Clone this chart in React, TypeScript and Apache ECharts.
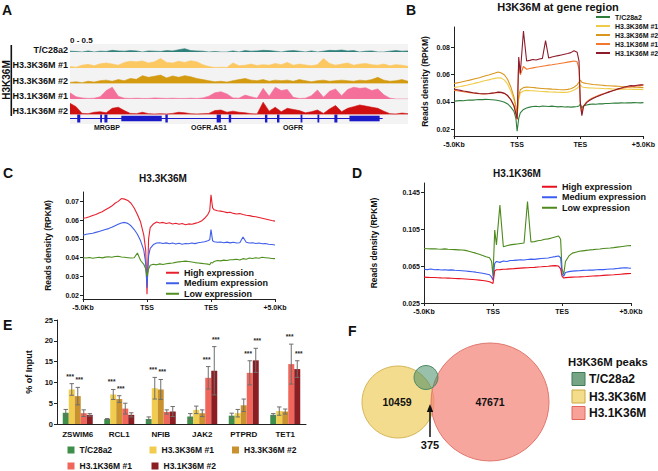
import { useEffect, useRef } from 'react';
import * as echarts from 'echarts';

const FONT = '"Liberation Sans", Arial, Helvetica, sans-serif';

// ---------- shared profile axis (-5kb .. TSS .. TES .. +5kb) ----------
const profileTicks = ['-5.0Kb', 'TSS', 'TES', '+5.0Kb'];
const profilePos = [0,1,2,3,4,5,6,7,8,9,10,11,12,13,14,15,16,17,18,19,19.6,20,20.5,21,22,23,24,25,26,27,28,29,30,31,32,33,34,35,36,37,38,39,39.6,40,40.5,41,42,43,44,45,46,47,48,49,50,51,52,53,54,55,56,57,58,59,60];

// ---------- Panel B ----------
const bNames = ['T/C28a2', 'H3.3K36M #1', 'H3.3K36M #2', 'H3.1K36M #1', 'H3.1K36M #2'];
const bColors = ['#2e7d3a', '#efcb47', '#d8961c', '#f4772e', '#8c1c2c'];
const bTC = [0.0405,0.0408,0.0410,0.0409,0.0412,0.0414,0.0413,0.0416,0.0418,0.0417,0.0419,0.0418,0.0416,0.0414,0.0410,0.0405,0.0398,0.0385,0.0362,0.0330, 0.0280,0.0185,0.0280, 0.0320,0.0345,0.0356,0.0362,0.0366,0.0368,0.0365,0.0370,0.0368,0.0366,0.0369,0.0367,0.0364,0.0366,0.0363,0.0365,0.0362,0.0364,0.0366, 0.0370,0.0385,0.0355, 0.0372,0.0378,0.0382,0.0385,0.0383,0.0387,0.0386,0.0389,0.0388,0.0390,0.0392,0.0391,0.0393,0.0392,0.0394,0.0393,0.0395,0.0394,0.0393,0.0395];
const bH33a = [0.0505,0.0510,0.0513,0.0518,0.0522,0.0528,0.0533,0.0540,0.0545,0.0552,0.0557,0.0562,0.0568,0.0573,0.0578,0.0575,0.0560,0.0530,0.0480,0.0415, 0.0360,0.0300,0.0420, 0.0465,0.0480,0.0485,0.0483,0.0482,0.0480,0.0478,0.0477,0.0476,0.0474,0.0473,0.0472,0.0471,0.0470,0.0470,0.0472,0.0477,0.0487,0.0500, 0.0515,0.0525,0.0512, 0.0508,0.0505,0.0503,0.0502,0.0500,0.0501,0.0499,0.0497,0.0498,0.0496,0.0495,0.0496,0.0494,0.0495,0.0493,0.0494,0.0492,0.0493,0.0492,0.0490];
const bH33b = [0.0535,0.0540,0.0545,0.0550,0.0555,0.0560,0.0566,0.0572,0.0578,0.0585,0.0592,0.0598,0.0605,0.0612,0.0620,0.0612,0.0598,0.0565,0.0510,0.0435, 0.0370,0.0305,0.0440, 0.0490,0.0505,0.0510,0.0508,0.0506,0.0503,0.0501,0.0499,0.0497,0.0496,0.0494,0.0493,0.0491,0.0490,0.0490,0.0492,0.0497,0.0508,0.0525, 0.0545,0.0560,0.0545, 0.0540,0.0535,0.0532,0.0528,0.0526,0.0524,0.0522,0.0520,0.0519,0.0517,0.0516,0.0515,0.0513,0.0512,0.0510,0.0511,0.0509,0.0508,0.0507,0.0505];
const bH31a = [0.0485,0.0482,0.0478,0.0475,0.0472,0.0468,0.0466,0.0463,0.0460,0.0458,0.0458,0.0460,0.0463,0.0467,0.0470,0.0468,0.0462,0.0445,0.0415,0.0370, 0.0310,0.0270,0.0700, 0.0600,0.0660,0.0640,0.0645,0.0650,0.0655,0.0658,0.0662,0.0666,0.0670,0.0673,0.0677,0.0680,0.0684,0.0688,0.0692,0.0696,0.0700,0.0695, 0.0640,0.0380,0.0310, 0.0370,0.0400,0.0418,0.0430,0.0440,0.0450,0.0458,0.0466,0.0474,0.0480,0.0487,0.0493,0.0498,0.0504,0.0508,0.0512,0.0515,0.0518,0.0520,0.0522];
const bH31b = [0.0495,0.0490,0.0485,0.0480,0.0476,0.0472,0.0468,0.0465,0.0462,0.0460,0.0460,0.0462,0.0465,0.0468,0.0472,0.0470,0.0463,0.0447,0.0418,0.0372, 0.0315,0.0275,0.0730, 0.0610,0.0920,0.0700,0.0705,0.0712,0.0708,0.0715,0.0720,0.0850,0.0722,0.0730,0.0735,0.0740,0.0745,0.0750,0.0755,0.0762,0.0775,0.0765, 0.0700,0.0400,0.0300, 0.0365,0.0395,0.0412,0.0425,0.0436,0.0446,0.0455,0.0463,0.0472,0.0480,0.0488,0.0496,0.0503,0.0510,0.0515,0.0520,0.0518,0.0522,0.0525,0.0526];
const bSeries = [bTC, bH33a, bH33b, bH31a, bH31b];

// ---------- Panels C and D ----------
const exprNames = ['High expression', 'Medium expression', 'Low expression'];
const cColors = ['#e8202e', '#3f5ee8', '#4f8f1f'];
const cHigh = [0.0610,0.0613,0.0618,0.0625,0.0630,0.0638,0.0645,0.0655,0.0665,0.0675,0.0690,0.0700,0.0715,0.0712,0.0705,0.0690,0.0665,0.0630,0.0590,0.0520, 0.0440,0.0205,0.0500, 0.0560,0.0580,0.0590,0.0585,0.0588,0.0582,0.0586,0.0580,0.0584,0.0578,0.0582,0.0576,0.0580,0.0578,0.0583,0.0588,0.0595,0.0610,0.0630, 0.0650,0.0735,0.0665, 0.0655,0.0650,0.0648,0.0645,0.0640,0.0642,0.0636,0.0633,0.0635,0.0630,0.0626,0.0624,0.0620,0.0618,0.0614,0.0610,0.0606,0.0602,0.0598,0.0595];
const cMed = [0.0520,0.0525,0.0528,0.0530,0.0535,0.0540,0.0545,0.0550,0.0555,0.0562,0.0570,0.0578,0.0585,0.0588,0.0583,0.0570,0.0550,0.0525,0.0490,0.0440, 0.0370,0.0240,0.0410, 0.0450,0.0470,0.0478,0.0480,0.0476,0.0479,0.0474,0.0478,0.0473,0.0477,0.0472,0.0476,0.0474,0.0478,0.0475,0.0480,0.0482,0.0485,0.0490, 0.0495,0.0550,0.0490, 0.0485,0.0482,0.0484,0.0480,0.0483,0.0479,0.0482,0.0478,0.0480,0.0510,0.0482,0.0478,0.0480,0.0476,0.0478,0.0474,0.0476,0.0472,0.0470,0.0468];
const cLow = [0.0400,0.0398,0.0401,0.0397,0.0400,0.0402,0.0399,0.0403,0.0405,0.0402,0.0406,0.0408,0.0404,0.0402,0.0400,0.0398,0.0400,0.0425,0.0385,0.0365, 0.0340,0.0300,0.0340, 0.0360,0.0365,0.0362,0.0367,0.0364,0.0368,0.0370,0.0372,0.0375,0.0378,0.0380,0.0382,0.0380,0.0377,0.0374,0.0372,0.0370,0.0368,0.0366, 0.0362,0.0375,0.0372, 0.0380,0.0385,0.0383,0.0387,0.0385,0.0389,0.0390,0.0392,0.0388,0.0395,0.0392,0.0398,0.0396,0.0400,0.0397,0.0402,0.0400,0.0398,0.0396,0.0395];
const dColors = ['#e8101e', '#3a5cf0', '#4c8a1c'];
const dHigh = [0.0530,0.0528,0.0526,0.0527,0.0524,0.0522,0.0521,0.0520,0.0518,0.0516,0.0514,0.0512,0.0510,0.0508,0.0505,0.0502,0.0498,0.0494,0.0488,0.0480, 0.0470,0.0462,0.0600, 0.0610,0.0612,0.0615,0.0617,0.0620,0.0622,0.0625,0.0628,0.0630,0.0632,0.0634,0.0636,0.0640,0.0642,0.0645,0.0648,0.0652,0.0655,0.0650, 0.0620,0.0540,0.0520, 0.0525,0.0528,0.0530,0.0532,0.0533,0.0535,0.0537,0.0540,0.0542,0.0544,0.0546,0.0549,0.0552,0.0554,0.0556,0.0559,0.0562,0.0565,0.0568,0.0570];
const dMed = [0.0615,0.0612,0.0618,0.0610,0.0613,0.0608,0.0611,0.0606,0.0609,0.0604,0.0602,0.0600,0.0597,0.0593,0.0589,0.0584,0.0578,0.0572,0.0565,0.0556, 0.0530,0.0500,0.0680, 0.0700,0.0690,0.0705,0.0700,0.0710,0.0712,0.0715,0.0718,0.0716,0.0722,0.0725,0.0723,0.0728,0.0732,0.0735,0.0738,0.0745,0.0752,0.0760, 0.0740,0.0570,0.0540, 0.0580,0.0590,0.0595,0.0598,0.0600,0.0603,0.0605,0.0608,0.0606,0.0610,0.0613,0.0612,0.0616,0.0618,0.0620,0.0624,0.0628,0.0632,0.0630,0.0626];
const dLow = [0.0840,0.0838,0.0836,0.0838,0.0835,0.0833,0.0836,0.0832,0.0830,0.0828,0.0826,0.0824,0.0820,0.0810,0.0800,0.0790,0.0778,0.0765,0.0752,0.0740, 0.0700,0.0540,0.1040, 0.0880,0.1310,0.0860,0.0870,0.0880,0.0885,0.0890,0.0895,0.0900,0.1350,0.0910,0.0915,0.0925,0.0930,0.0940,0.0945,0.0955,0.0965,0.0975, 0.0940,0.0620,0.0560, 0.0700,0.0760,0.0790,0.0800,0.0810,0.0815,0.0820,0.0825,0.0828,0.0832,0.0835,0.0840,0.0843,0.0846,0.0850,0.0855,0.0860,0.0865,0.0870,0.0872];

// ---------- Panel E ----------
const qGenes = ['ZSWIM6', 'RCL1', 'NFIB', 'JAK2', 'PTPRD', 'TET1'];
const qNames = ['T/C28a2', 'H3.3K36M #1', 'H3.3K36M #2', 'H3.1K36M #1', 'H3.1K36M #2'];
const qColors = ['#3e8f4a', '#f1cc4e', '#c9922e', '#f0665a', '#8b1e22'];
const qTC = [2.7, 1.2, 1.2, 1.8, 2.0, 2.2];
const qTCerr = [0.8, 0.1, 0.5, 0.7, 0.6, 0.3];
const qH33a = [8.3, 7.1, 8.6, 3.4, 2.6, 3.1];
const qH33aErr = [1.4, 1.2, 2.6, 0.9, 0.9, 1.0];
const qH33b = [6.7, 6.0, 8.3, 2.6, 4.5, 3.0];
const qH33bErr = [2.1, 0.8, 2.4, 0.8, 1.5, 0.6];
const qH31a = [2.6, 3.7, 2.9, 11.1, 12.3, 14.4];
const qH31aErr = [0.8, 1.3, 0.5, 2.7, 2.9, 4.8];
const qH31b = [2.2, 2.2, 3.0, 12.8, 15.3, 13.2];
const qH31bErr = [0.3, 0.5, 1.2, 5.8, 2.9, 2.0];
const qStars = [
  [0, 0, 0, 0, 0, 0],
  [1, 1, 1, 0, 0, 0],
  [1, 1, 1, 0, 0, 0],
  [0, 0, 0, 1, 1, 1],
  [0, 0, 0, 1, 1, 1],
];
const qVals = [qTC, qH33a, qH33b, qH31a, qH31b];
const qErrs = [qTCerr, qH33aErr, qH33bErr, qH31aErr, qH31bErr];

// ---------- Panel A (genome browser tracks, 57 bins, scale 0 - 0.5) ----------
const trackNames = ['T/C28a2', 'H3.3K36M #1', 'H3.3K36M #2', 'H3.1K36M #1', 'H3.1K36M #2'];
const trackColors = ['#2f7f7a', '#fcc862', '#d49a10', '#f4709a', '#d01010'];
const trTC = [0.03,0.02,0.00,0.04,0.00,0.03,0.02,0.06,0.04,0.03,0.05,0.04,0.00,0.04,0.03,0.02,0.05,0.04,0.08,0.12,0.05,0.04,0.03,0.00,0.02,0.00,0.00,0.04,0.00,0.05,0.03,0.04,0.06,0.05,0.03,0.00,0.04,0.05,0.03,0.00,0.04,0.00,0.03,0.06,0.05,0.07,0.04,0.05,0.00,0.03,0.04,0.00,0.00,0.03,0.05,0.03,0.04];
const trH33a = [0.05,0.03,0.10,0.13,0.08,0.15,0.18,0.14,0.10,0.20,0.24,0.22,0.25,0.18,0.22,0.34,0.20,0.18,0.24,0.20,0.26,0.22,0.12,0.05,0.02,0.03,0.02,0.18,0.08,0.10,0.14,0.09,0.12,0.10,0.16,0.12,0.20,0.10,0.14,0.11,0.08,0.12,0.34,0.16,0.10,0.14,0.18,0.10,0.14,0.16,0.12,0.10,0.14,0.08,0.12,0.10,0.06];
const trH33b = [0.04,0.06,0.03,0.08,0.05,0.10,0.12,0.08,0.14,0.10,0.18,0.15,0.28,0.22,0.26,0.30,0.20,0.27,0.22,0.28,0.24,0.18,0.14,0.10,0.06,0.08,0.05,0.10,0.14,0.18,0.12,0.10,0.14,0.08,0.12,0.10,0.12,0.08,0.14,0.10,0.06,0.10,0.12,0.08,0.10,0.12,0.10,0.08,0.12,0.10,0.14,0.22,0.12,0.08,0.10,0.14,0.08];
const trH31a = [0.22,0.08,0.04,0.02,0.03,0.08,0.30,0.42,0.10,0.03,0.02,0.03,0.02,0.02,0.04,0.03,0.02,0.03,0.02,0.02,0.03,0.02,0.04,0.10,0.22,0.26,0.18,0.04,0.03,0.14,0.08,0.03,0.38,0.10,0.42,0.30,0.34,0.06,0.02,0.03,0.12,0.32,0.06,0.28,0.36,0.12,0.34,0.42,0.38,0.40,0.30,0.36,0.15,0.03,0.00,0.00,0.00];
const trH31b = [0.40,0.28,0.04,0.03,0.08,0.10,0.06,0.22,0.26,0.14,0.04,0.03,0.08,0.03,0.02,0.03,0.02,0.04,0.08,0.06,0.03,0.02,0.03,0.04,0.14,0.16,0.08,0.12,0.08,0.06,0.03,0.02,0.44,0.12,0.26,0.10,0.22,0.18,0.14,0.06,0.10,0.16,0.04,0.20,0.32,0.10,0.22,0.28,0.34,0.30,0.26,0.22,0.12,0.03,0.02,0.05,0.03];
const trackData = [trTC, trH33a, trH33b, trH31a, trH31b];
const geneSpan = [0, 51.8];
const geneExons = [[1.2,1.7,1],[5,5.3,1],[5.7,6.2,1],[8.5,15.2,0.7],[15.8,16.2,1],[24.3,25,1],[26.3,26.7,1],[32.3,32.7,1],[34.3,34.7,1],[38.2,38.5,1],[41,41.3,1],[43.8,44.3,1],[46.3,51.3,0.7]];
const geneLabels = ['MRGBP', 'OGFR.AS1', 'OGFR'];

// ---------- Panel F ----------
const vennNames = ['T/C28a2', 'H3.3K36M', 'H3.1K36M'];
const vennCounts = [10459, 47671, 375];

const strip = (n: string) => n.replace(/^[A-Z]:/, '');
const bold = (size: number, extra: any = {}) => ({ fontSize: size, fontWeight: 'bold', color: '#111', fontFamily: FONT, ...extra });

function profileX(gridIndex: number) {
  return {
    type: 'value', gridIndex, min: 0, max: 60, interval: 20,
    axisLine: { show: true, lineStyle: { color: '#222', width: 1 } },
    axisTick: { show: true, length: 3, lineStyle: { color: '#222' } },
    splitLine: { show: false },
    axisLabel: { ...bold(7), margin: 5, formatter: (v: number) => profileTicks[Math.round(v / 20)] || '' },
  };
}
function profileY(gridIndex: number, extra: any, nameGap: number) {
  return {
    type: 'value', gridIndex, ...extra,
    name: 'Reads density (RPKM)', nameLocation: 'middle', nameGap, nameRotate: 90,
    nameTextStyle: bold(8.5),
    axisLine: { show: true, lineStyle: { color: '#222', width: 1 } },
    axisTick: { show: true, length: 3, lineStyle: { color: '#222' } },
    splitLine: { show: false },
    axisLabel: { ...bold(7), margin: 4, showMinLabel: extra.interval ? true : false, showMaxLabel: false },
  };
}
const pairs = (arr: number[]) => profilePos.map((x, i) => [x, arr[i]]);
const lineSeries = (name: string, data: number[], color: string, axis: number) => ({
  type: 'line', name, data: pairs(data), xAxisIndex: axis, yAxisIndex: axis,
  symbol: 'none', showSymbol: false, silent: true,
  lineStyle: { color, width: 1.1 }, itemStyle: { color },
});

function txt(text: string, x: number, y: number, size: number, align = 'left', vAlign = 'middle', extra: any = {}) {
  return {
    type: 'text', x, y, silent: true, ...extra,
    style: { text, x: 0, y: 0, fill: '#111', font: `bold ${size}px ${FONT}`, align, verticalAlign: vAlign, textAlign: align, textVerticalAlign: vAlign },
  };
}

export default function App() {
  const ref = useRef<HTMLDivElement>(null);
  useEffect(() => {
    if (!ref.current) return;
    const chart = echarts.init(ref.current, undefined, { renderer: 'svg' });

    const trackBase = [52, 68, 83.5, 99, 114.5];
    const grids: any[] = [
      { left: 454, top: 27, width: 199, height: 109 },
      { left: 83, top: 192, width: 192, height: 107 },
      { left: 424, top: 183, width: 207, height: 120 },
      { left: 57, top: 320, width: 249, height: 104 },
      ...trackBase.map((b) => ({ left: 70, top: b - 14, width: 338, height: 14 })),
      { left: 70, top: 114.5, width: 338, height: 8 },
    ];
    const xAxes: any[] = [
      profileX(0), profileX(1), profileX(2),
      {
        type: 'category', gridIndex: 3, data: qGenes,
        axisLine: { lineStyle: { color: '#222' } }, axisTick: { show: false },
        axisLabel: { ...bold(8), margin: 6, interval: 0 },
      },
      ...trackBase.map((_, i) => ({ type: 'value', gridIndex: 4 + i, min: 0, max: 56, show: false })),
      { type: 'value', gridIndex: 9, min: 0, max: 56, show: false },
    ];
    const yAxes: any[] = [
      profileY(0, { min: 0.015, max: 0.095, splitNumber: 4 }, 25),
      profileY(1, { min: 0.018, max: 0.075, splitNumber: 5 }, 30.5),
      profileY(2, { min: 0.025, max: 0.155, interval: 0.04 }, 46),
      {
        type: 'value', gridIndex: 3, min: 0, max: 25, interval: 5,
        name: '% of Input', nameLocation: 'middle', nameGap: 24, nameRotate: 90, nameTextStyle: bold(9),
        axisLine: { show: true, lineStyle: { color: '#222' } },
        axisTick: { show: true, length: 3, lineStyle: { color: '#222' } },
        splitLine: { show: false }, axisLabel: { ...bold(7.5), margin: 4 },
      },
      ...trackBase.map((_, i) => ({ type: 'value', gridIndex: 4 + i, min: 0, max: 0.5, show: false })),
      { type: 'value', gridIndex: 9, min: 0, max: 1, show: false },
    ];

    const series: any[] = [];
    bNames.forEach((n, i) => series.push(lineSeries(n, bSeries[i], bColors[i], 0)));
    [cHigh, cMed, cLow].forEach((d, i) => series.push(lineSeries('C:' + exprNames[i], d, cColors[i], 1)));
    [dLow, dMed, dHigh].forEach((d, k) => {
      const i = 2 - k;
      series.push(lineSeries('D:' + exprNames[i], d, dColors[i], 2));
    });
    const barW = 6;
    qNames.forEach((n, k) => {
      series.push({
        type: 'bar', name: 'E:' + n, data: qVals[k], xAxisIndex: 3, yAxisIndex: 3,
        barWidth: barW, barGap: '0%', itemStyle: { color: qColors[k] }, silent: true,
      });
    });
    qNames.forEach((n, k) => {
      const off = (k - 2) * barW;
      const starShift = k === 1 || k === 3 ? -1.6 : 1.6;
      series.push({
        type: 'custom', name: 'err' + k, xAxisIndex: 3, yAxisIndex: 3, z: 5, silent: true,
        data: qGenes.map((_, i) => [i, qVals[k][i], qErrs[k][i], qStars[k][i]]),
        encode: { x: 0, y: 1 },
        renderItem: (_p: any, api: any) => {
          const ci = api.value(0), v = api.value(1), e = api.value(2), s = api.value(3);
          const c = api.coord([ci, v]);
          const x = c[0] + off;
          const yT = api.coord([ci, v + e])[1];
          const yB = api.coord([ci, v - e])[1];
          const st = { stroke: '#6e6e6e', lineWidth: 1 };
          const children: any[] = [
            { type: 'line', shape: { x1: x, y1: yT, x2: x, y2: yB }, style: st },
            { type: 'line', shape: { x1: x - 2.2, y1: yT, x2: x + 2.2, y2: yT }, style: st },
            { type: 'line', shape: { x1: x - 2.2, y1: yB, x2: x + 2.2, y2: yB }, style: st },
          ];
          if (s) {
            children.push({ type: 'text', style: { text: '***', x: x + starShift, y: yT - 4, align: 'center', verticalAlign: 'bottom', font: `bold 6.5px ${FONT}`, fill: '#222' } });
          }
          return { type: 'group', children };
        },
      });
    });
    trackData.forEach((d, i) => {
      series.push({
        type: 'line', name: 'track' + i, xAxisIndex: 4 + i, yAxisIndex: 4 + i,
        data: d.map((v, j) => [j, v]), symbol: 'none', silent: true,
        lineStyle: { color: trackColors[i], width: 0.6 },
        areaStyle: { color: trackColors[i], opacity: 1 },
      });
    });
    series.push({
      type: 'line', name: 'geneLine', xAxisIndex: 9, yAxisIndex: 9, silent: true,
      data: [[geneSpan[0], 0.5], [geneSpan[1], 0.5]], symbol: 'none',
      lineStyle: { color: '#1a1ac8', width: 1 },
    });
    series.push({
      type: 'custom', name: 'exons', xAxisIndex: 9, yAxisIndex: 9, silent: true,
      data: geneExons, encode: { x: [0, 1], y: 2 },
      renderItem: (_p: any, api: any) => {
        const h = api.value(2);
        const a = api.coord([api.value(0), 0.5 + h / 2]);
        const b = api.coord([api.value(1), 0.5 - h / 2]);
        return { type: 'rect', shape: { x: a[0], y: a[1], width: Math.max(1.2, b[0] - a[0]), height: b[1] - a[1] }, style: { fill: '#1a1ac8' } };
      },
    });

    const legendBase = { padding: 0, selectedMode: false, icon: 'rect', formatter: strip };
    const legends: any[] = [
      { ...legendBase, data: bNames, orient: 'vertical', left: 596, top: 12.5, itemWidth: 14, itemHeight: 2, itemGap: 0, textStyle: { ...bold(7), lineHeight: 9 } },
      { ...legendBase, data: exprNames.map((n) => 'C:' + n), orient: 'vertical', left: 166, top: 267.5, itemWidth: 13, itemHeight: 2, itemGap: 0, textStyle: { ...bold(9), lineHeight: 10.5 } },
      { ...legendBase, data: exprNames.map((n) => 'D:' + n), orient: 'vertical', left: 542, top: 181.5, itemWidth: 15, itemHeight: 2, itemGap: 0, textStyle: { ...bold(9), lineHeight: 10.5 } },
    ];
    const eLegendPos = [[67.5, 445], [149.5, 445], [232, 445], [67.5, 461], [151.5, 461]];
    qNames.forEach((n, k) => {
      legends.push({ ...legendBase, data: ['E:' + n], left: eLegendPos[k][0], top: eLegendPos[k][1], itemWidth: 7, itemHeight: 7, textStyle: { ...bold(8.5), lineHeight: 10 } });
    });

    const trackLabelY = [50, 64.5, 80.5, 96, 110.5];
    const vennLegendY = [379, 396.5, 413];
    const vennFill = ['#75a585', '#f3dd8a', '#f7a199'];
    const vennStroke = ['#3f7a55', '#c9a843', '#e0665c'];
    const graphic: any[] = [
      // panel letters
      txt('A', 2, 3, 14, 'left', 'top'),
      txt('B', 406, 3, 14, 'left', 'top'),
      txt('C', 3, 166, 14, 'left', 'top'),
      txt('D', 352, 166, 14, 'left', 'top'),
      txt('E', 3, 318, 14, 'left', 'top'),
      txt('F', 348, 324, 14, 'left', 'top'),
      // titles
      txt('H3K36M at gene region', 558, 6.5, 11, 'center'),
      txt('H3.3K36M', 163, 178, 10, 'center'),
      txt('H3.1K36M', 517, 173, 10, 'center'),
      // panel A
      { type: 'rect', z: -5, silent: true, shape: { x: 70, y: 44, width: 338, height: 80 }, style: { fill: '#f3f3f3' } },
      txt('0 - 0.5', 70, 40, 8),
      ...trackNames.map((n, i) => txt(n, 68, trackLabelY[i], 9, 'right')),
      { type: 'rect', silent: true, shape: { x: 10.5, y: 45, width: 1.6, height: 71 }, style: { fill: '#111' } },
      txt('H3K36M', 6, 80, 10, 'center', 'middle', { rotation: Math.PI / 2 }),
      txt(geneLabels[0], 107, 127.5, 7, 'center'),
      txt(geneLabels[1], 209, 127.5, 7, 'center'),
      txt(geneLabels[2], 293, 127.5, 7, 'center'),
      // panel F venn
      { type: 'circle', silent: true, shape: { cx: 398, cy: 402, r: 36 }, style: { fill: '#f3dc8e', stroke: '#d6b65a', lineWidth: 1 } },
      { type: 'circle', silent: true, shape: { cx: 490, cy: 402, r: 59 }, style: { fill: 'rgba(244,132,120,0.72)', stroke: '#e0776d', lineWidth: 1 } },
      { type: 'circle', silent: true, shape: { cx: 426, cy: 377.5, r: 12 }, style: { fill: 'rgba(70,140,100,0.55)', stroke: '#4d8a63', lineWidth: 1 } },
      txt(String(vennCounts[0]), 397, 402, 10.5, 'center'),
      txt(String(vennCounts[1]), 490, 402, 10.5, 'center'),
      txt(String(vennCounts[2]), 430, 445, 11, 'center'),
      { type: 'line', silent: true, shape: { x1: 430, y1: 437, x2: 430, y2: 410 }, style: { stroke: '#111', lineWidth: 1.5 } },
      { type: 'polygon', silent: true, shape: { points: [[430, 404], [426.8, 412], [433.2, 412]] }, style: { fill: '#111' } },
      txt('H3K36M peaks', 568, 362, 11.3),
      ...vennNames.map((n, i) => ({ type: 'rect', silent: true, shape: { x: 572, y: vennLegendY[i] - 6.5, width: 13, height: 13 }, style: { fill: vennFill[i], stroke: vennStroke[i], lineWidth: 1 } })),
      ...vennNames.map((n, i) => txt(n, 589, vennLegendY[i], 12)),
    ];

    chart.setOption({
      animation: false,
      backgroundColor: '#ffffff',
      textStyle: { fontFamily: FONT },
      grid: grids,
      xAxis: xAxes,
      yAxis: yAxes,
      legend: legends,
      series,
      graphic,
    });
    return () => chart.dispose();
  }, []);

  return <div ref={ref} style={{ position: 'fixed', left: 0, top: 0, width: 658, height: 471, background: '#fff' }} />;
}
